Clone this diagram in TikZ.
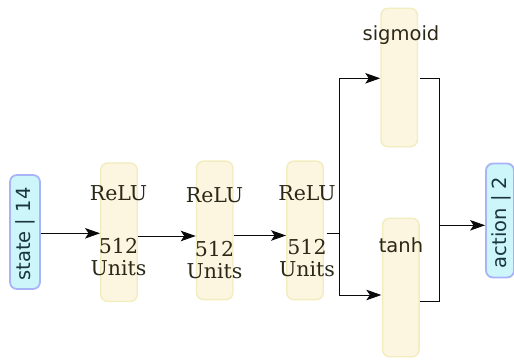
\documentclass[tikz,border=0pt]{standalone}
\usepackage{fontspec}
\setmainfont{DejaVu Serif}
\newfontfamily\dvsans{DejaVu Sans}
\usetikzlibrary{arrows.meta}
\definecolor{layerfill}{HTML}{FCF6E0}
\definecolor{layerborder}{HTML}{F2ECBE}
\definecolor{iofill}{HTML}{CCF6F9}
\definecolor{ioborder}{HTML}{A9B3F8}
\definecolor{txt}{HTML}{2B2818}
\definecolor{iotxt}{HTML}{1A3440}
\definecolor{lineclr}{HTML}{0A0A0A}
\begin{document}
\begin{tikzpicture}[x=1pt,y=-1pt,
  layer/.style={draw=layerborder, fill=layerfill, rounded corners=7pt, line width=1.4pt, inner sep=0pt, minimum width=36.5pt, minimum height=138.5pt},
  io/.style={draw=ioborder, fill=iofill, rounded corners=7pt, line width=1.8pt, inner sep=0pt},
  serif/.style={font=\fontsize{20.5}{22}\selectfont, text=txt, anchor=base, inner sep=0pt},
  sans/.style={font=\dvsans\fontsize{19.5}{22}\selectfont, text=txt, anchor=base, inner sep=0pt},
  iolbl/.style={font=\dvsans\fontsize{19.5}{22}\selectfont, text=iotxt, inner sep=0pt, rotate=90},
  conn/.style={draw=lineclr, line width=1pt, -{Stealth[length=15pt,width=10.5pt,inset=3.5pt]}},
  wire/.style={draw=lineclr, line width=1pt},
]
\useasboundingbox (0,0) rectangle (514,361);

% boxes
\node[io, minimum width=30pt, minimum height=114pt] (state) at (25,232) {};
\node[io, minimum width=28pt, minimum height=114pt] (action) at (500,220.5) {};
\node[layer] (l1) at (119,232.2) {};
\node[layer] (l2) at (214.7,230.4) {};
\node[layer] (l3) at (305,230.4) {};
\node[layer] (sig) at (399.2,77.5) {};
\node[layer] (tanh) at (400.8,287.5) {};

% labels
\node[iolbl] (statelbl) at (25,234) {state | 14};
\node[iolbl] (actionlbl) at (501,222.5) {action | 2};
\node[serif] (r1) at (118.5,200) {ReLU};
\node[serif] (n1) at (118.5,253) {512};
\node[serif] (u1) at (118.5,275) {Units};
\node[serif] (r2) at (214.5,202) {ReLU};
\node[serif] (n2) at (214.5,256) {512};
\node[serif] (u2) at (214.5,278) {Units};
\node[serif] (r3) at (307,200.5) {ReLU};
\node[serif] (n3) at (307,254.5) {512};
\node[serif] (u3) at (307,276.5) {Units};
\node[sans] (sigl) at (401,41) {sigmoid};
\node[sans] (tanhl) at (401,252) {tanh};

% junction coordinates
\coordinate (o3) at (326.5,233.5);
\coordinate (split) at (339,233.5);
\coordinate (merge) at (439,225.3);

% connectors
\draw[conn] (state.east |- 0,233.3) -- (l1.west |- 0,233.3);
\draw[conn] (l1.east |- 0,236) -- (l2.west |- 0,236);
\draw[conn] (l2.east |- 0,235.5) -- (l3.west |- 0,235.5);
\draw[wire] (o3) -- (split);
\draw[conn] (split) |- (sig.west |- 0,78.3);
\draw[conn] (split) |- ([xshift=-0.5pt]tanh.west |- 0,295);
\draw[wire] ([xshift=2pt]sig.east |- 0,79) -| (merge);
\draw[wire] (tanh.east |- 0,301) -| (merge);
\draw[conn] (merge) -- (action.west |- merge);
\end{tikzpicture}
\end{document}
